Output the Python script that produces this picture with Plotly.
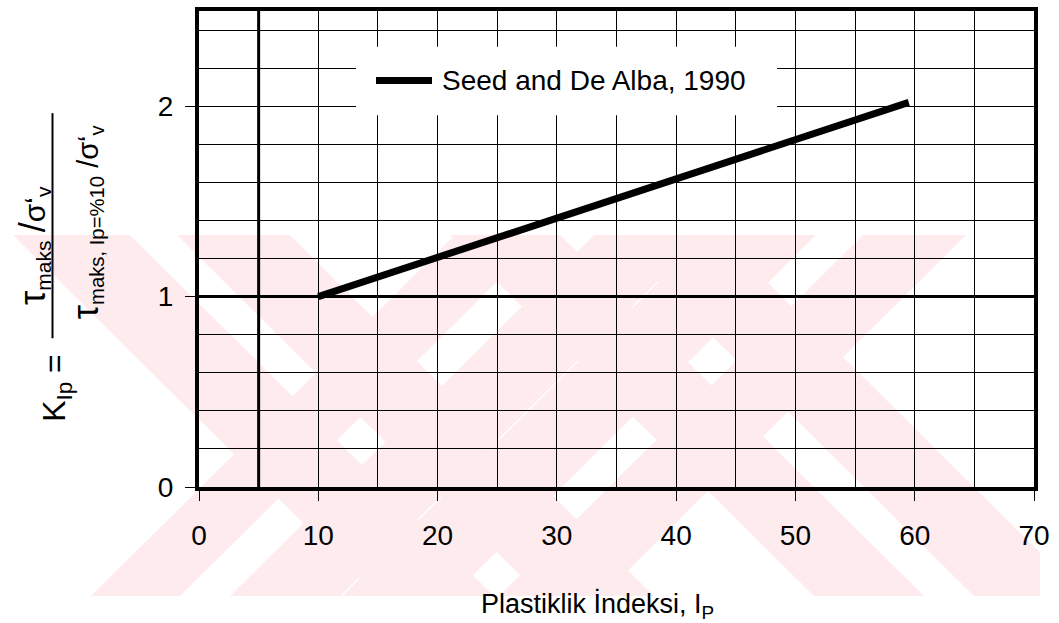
import plotly.graph_objects as go

# --- data -------------------------------------------------------------
ip_values = [10, 59.5]          # plasticity index, Ip (%)
k_values = [1.0, 2.02]          # K_Ip ratio
x_tick_vals = [0, 10, 20, 30, 40, 50, 60, 70]
y_tick_vals = [0, 1, 2]
series_name = "Seed and De Alba, 1990"

# --- page geometry (pixels) -------------------------------------------
W, H = 1059, 623
L, R, T, B = 199, 1034, 7, 487          # plot-area edges


def px(x):
    return (x - L) / (R - L)


def py(y):
    return (B - y) / (B - T)


FONT = "Arial, Liberation Sans, Helvetica, sans-serif"
PINK = "#fdebee"

fig = go.Figure()
fig.add_trace(go.Scatter(
    x=ip_values, y=k_values, mode="lines", name=series_name,
    line=dict(color="black", width=7), showlegend=False, hoverinfo="skip",
))

shapes = []

# background diagonal stripe motif
band_top, band_bot = 233, 597
span = band_bot - band_top
stripes = [
    ("down", 13, 130), ("down", 177, 290),
    ("up", 91, 180), ("up", 230, 340),
    ("down", 450, 560), ("down", 610, 720),
    ("up", 342, 452), ("up", 499, 602),
]


def clip_x(poly, xmin, xmax):
    def clip(pts, inside, inter):
        out = []
        n = len(pts)
        for i in range(n):
            cur, prev = pts[i], pts[i - 1]
            if inside(cur):
                if not inside(prev):
                    out.append(inter(prev, cur))
                out.append(cur)
            elif inside(prev):
                out.append(inter(prev, cur))
        return out

    def at_x(xv):
        def f(p, q):
            t = (xv - p[0]) / (q[0] - p[0])
            return (xv, p[1] + t * (q[1] - p[1]))
        return f

    pts = clip(poly, lambda p: p[0] >= xmin, at_x(xmin))
    pts = clip(pts, lambda p: p[0] <= xmax, at_x(xmax))
    return pts


for kind, a, b in stripes:
    if kind == "down":
        poly = [(a, band_top), (b, band_top), (b + span, band_bot), (a + span, band_bot)]
    else:
        poly = [(a, band_bot), (b, band_bot), (b + span, band_top), (a + span, band_top)]
    poly = clip_x(poly, 0, 1040)
    if not poly:
        continue
    path = "M " + " L ".join(f"{px(x):.5f},{py(y):.5f}" for x, y in poly) + " Z"
    shapes.append(dict(type="path", path=path, xref="paper", yref="paper",
                       fillcolor=PINK, line=dict(width=0), layer="below"))

# heavy reference lines at Ip = 5 and K = 1
shapes.append(dict(type="line", xref="x", yref="y", x0=5, x1=5, y0=0, y1=2.5,
                   line=dict(color="black", width=3), layer="below"))
shapes.append(dict(type="line", xref="x", yref="y", x0=0, x1=70, y0=1, y1=1,
                   line=dict(color="black", width=3), layer="below"))

# legend box
shapes.append(dict(type="rect", xref="paper", yref="paper",
                   x0=px(356), x1=px(777), y0=py(112), y1=py(43),
                   fillcolor="white", line=dict(width=0), layer="above"))
shapes.append(dict(type="line", xref="paper", yref="paper",
                   x0=px(376), x1=px(432), y0=py(77), y1=py(77),
                   line=dict(color="black", width=7), layer="above"))

# fraction bar of the y-axis title
shapes.append(dict(type="line", xref="paper", yref="paper",
                   x0=px(52.5), x1=px(52.5), y0=py(337), y1=py(110),
                   line=dict(color="black", width=2)))

big = '<span style="font-size:36px">{}</span>'
annotations = [
    dict(text=series_name, x=px(440), y=py(77), xref="paper", yref="paper",
         xanchor="left", yanchor="middle", showarrow=False,
         font=dict(family=FONT, size=28, color="black")),
    dict(text="Plastiklik İndeksi, I<sub>P</sub>", x=px(597), y=py(606),
         xref="paper", yref="paper", xanchor="center", yanchor="middle",
         showarrow=False, font=dict(family=FONT, size=27, color="black")),
    dict(text="K<sub>Ip</sub> =", x=px(57), y=py(387), xref="paper", yref="paper",
         xanchor="center", yanchor="middle", textangle=-90, showarrow=False,
         font=dict(family=FONT, size=32, color="black")),
    dict(text=big.format("τ") + "<sub>maks</sub> " + big.format("/") + "σ‘<sub>v</sub>",
         x=px(33), y=py(244),
         xref="paper", yref="paper", xanchor="center", yanchor="middle",
         textangle=-90, showarrow=False,
         font=dict(family=FONT, size=30, color="black")),
    dict(text=big.format("τ") + "<sub>maks, Ip=%10</sub> /σ‘<sub>v</sub>",
         x=px(86), y=py(220),
         xref="paper", yref="paper", xanchor="center", yanchor="middle",
         textangle=-90, showarrow=False,
         font=dict(family=FONT, size=29, color="black")),
]

axis_common = dict(
    showline=True, linewidth=4, linecolor="black", mirror=True,
    ticks="outside", ticklen=10, tickwidth=1, tickcolor="black",
    showgrid=True, gridcolor="black", gridwidth=1, zeroline=False,
    tickfont=dict(family=FONT, size=28, color="black"),
)

fig.update_layout(
    width=W, height=H,
    margin=dict(l=L, r=W - R, t=T, b=H - B, pad=0),
    paper_bgcolor="white", plot_bgcolor="rgba(0,0,0,0)",
    xaxis=dict(range=[0, 70], tickvals=x_tick_vals, ticklabelstandoff=10,
               minor=dict(dtick=5, tick0=0, showgrid=True, gridcolor="black",
                          gridwidth=1, ticks=""),
               **axis_common),
    yaxis=dict(range=[0, 2.5], tickvals=y_tick_vals, ticklabelstandoff=6,
               minor=dict(dtick=0.2, tick0=0, showgrid=True, gridcolor="black",
                          gridwidth=1, ticks=""),
               **axis_common),
    shapes=shapes, annotations=annotations, showlegend=False,
)

fig.write_html("out.html")
